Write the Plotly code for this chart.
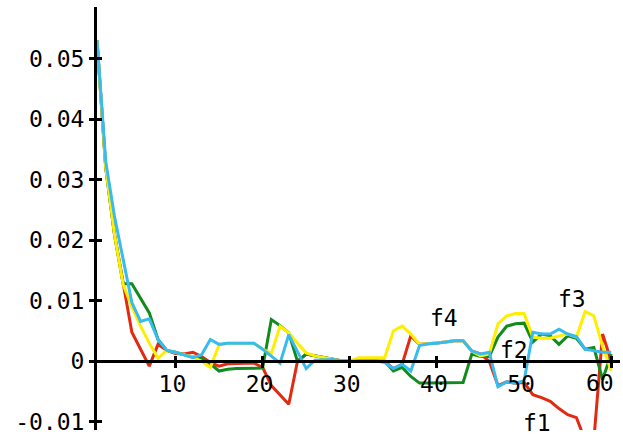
import plotly.graph_objects as go

# sample index
n = list(range(1, 61))

f1 = [0.053, 0.032, 0.021, 0.0127, 0.0048, 0.002, -0.0008, 0.0028, 0.0018, 0.0013,
      0.0012, 0.0015, 0.0008, -0.0002, -0.0008, -0.0004, -0.0003, -0.0003, -0.0003, -0.001,
      -0.004, -0.0055, -0.0071, 0.0, 0.0012, 0.0009, 0.0006, 0.0003, 0.0001, 0.0,
      0.0, 0.0, 0.0, 0.0, -0.0012, -0.0005, 0.0042, 0.0028, 0.0029, 0.003,
      0.0032, 0.0034, 0.0034, 0.0017, 0.0012, 0.0, -0.004, -0.0034, -0.0036, -0.0035,
      -0.0055, -0.006, -0.0066, -0.0078, -0.0088, -0.0093, -0.013, -0.013, 0.0045, 0.0]

f2 = [0.053, 0.032, 0.021, 0.0128, 0.0128, 0.0105, 0.008, 0.0036, 0.0018, 0.0015,
      0.0011, 0.0007, 0.0005, -0.0004, -0.0016, -0.0013, -0.0012, -0.0012, -0.0012, -0.0011,
      0.0069, 0.0059, 0.0047, 0.0, 0.0012, 0.0009, 0.0006, 0.0003, 0.0001, 0.0,
      0.0, 0.0, 0.0, 0.0, -0.0016, -0.001, -0.0025, -0.0036, -0.0036, -0.0036,
      -0.0036, -0.0036, -0.0035, 0.0012, 0.0008, 0.0008, 0.004, 0.0058, 0.0062, 0.0063,
      0.0032, 0.0045, 0.0042, 0.0028, 0.0042, 0.0038, 0.002, 0.0023, -0.003, 0.0012]

f3 = [0.053, 0.032, 0.021, 0.0127, 0.009, 0.0058, 0.003, 0.0005, 0.0018, 0.0015,
      0.0011, 0.0007, 0.0, -0.001, 0.0027, 0.003, 0.003, 0.003, 0.003, 0.002,
      0.0013, 0.0058, 0.0047, 0.003, 0.0014, 0.0009, 0.0006, 0.0003, 0.0001, 0.0,
      0.0006, 0.0006, 0.0006, 0.0006, 0.005, 0.0058, 0.0045, 0.0028, 0.0029, 0.003,
      0.0032, 0.0034, 0.0034, 0.0017, 0.0009, 0.0012, 0.0062, 0.0075, 0.0079, 0.0079,
      0.004, 0.0038, 0.0038, 0.0042, 0.0045, 0.004, 0.0082, 0.0075, 0.0025, -0.0016]

f4 = [0.053, 0.033, 0.024, 0.017, 0.0097, 0.0066, 0.007, 0.0036, 0.0018, 0.0015,
      0.0011, 0.0006, 0.0011, 0.0036, 0.0028, 0.003, 0.003, 0.003, 0.003, 0.002,
      0.0009, -0.0003, 0.0044, 0.0015, -0.0012, 0.0002, 0.0003, 0.0003, 0.0001, 0.0,
      0.0001, 0.0001, 0.0001, -0.0002, -0.0012, -0.0005, -0.0016, 0.0026, 0.0029, 0.003,
      0.0032, 0.0034, 0.0034, 0.0017, 0.0012, 0.0015, -0.0042, -0.0034, -0.0036, -0.0032,
      0.0048, 0.0045, 0.0045, 0.0053, 0.0045, 0.0041, 0.002, 0.0017, 0.0015, 0.0015]

names = ["f1", "f2", "f3", "f4"]
colors = ["#E22A10", "#128A1E", "#FFEE00", "#38BBEE"]
series = [f1, f2, f3, f4]

# curve labels (x, y in data units)
label_x = [51.46, 48.82, 55.53, 40.8]
label_y = [-0.0102, 0.0019, 0.0103, 0.0072]

x_ticks = [10, 20, 30, 40, 50, 60]
# the last label is drawn separately, pulled left so it stays inside the page
x_tick_text = ["10", "20", "30", "40", "50", ""]
last_x_label = "60"
y_ticks = [-0.01, 0, 0.01, 0.02, 0.03, 0.04, 0.05]
y_tick_text = ["-0.01", "0", "0.01", "0.02", "0.03", "0.04", "0.05"]

x_range = [1, 61]
y_range = [-0.01134, 0.0585]
zero_pos = (0 - y_range[0]) / (y_range[1] - y_range[0])

FONT = "DejaVu Sans Mono"
fig = go.Figure()
for name, col, ys in zip(names, colors, series):
    fig.add_trace(go.Scatter(x=n, y=ys, mode="lines", name=name,
                             line=dict(color=col, width=3), showlegend=False))

for name, lx, ly in zip(names, label_x, label_y):
    fig.add_annotation(x=lx, y=ly, xref="x", yref="y", text=name, showarrow=False,
                       font=dict(family=FONT, size=23, color="black"),
                       xanchor="center", yanchor="middle")

fig.add_annotation(x=x_ticks[-1], y=0, xref="x", yref="y", text=last_x_label,
                   showarrow=False, font=dict(family=FONT, size=23, color="black"),
                   xanchor="center", yanchor="top", xshift=-11, yshift=-7)

axis_common = dict(showgrid=False, zeroline=False, linecolor="black", linewidth=3,
                   tickcolor="black", tickwidth=3, ticklen=5, automargin=False,
                   tickfont=dict(family=FONT, size=23, color="black"))

fig.update_layout(
    width=623, height=439,
    margin=dict(l=97, r=3, t=7, b=9, autoexpand=False),
    paper_bgcolor="white", plot_bgcolor="white",
    xaxis=dict(range=x_range, tickvals=x_ticks, ticktext=x_tick_text,
               ticks="outside", showline=True,
               ticklabelstandoff=-4, ticklabelshift=-3,
               anchor="free", position=zero_pos, **axis_common),
    yaxis=dict(range=y_range, tickvals=y_ticks, ticktext=y_tick_text,
               ticks="outside", showline=True, **axis_common),
    # second set of axes draws the inner half of each crossing tick
    xaxis2=dict(range=x_range, tickvals=x_ticks, ticks="inside", showline=False,
                showticklabels=False, overlaying="x", anchor="free",
                position=zero_pos, **axis_common),
    yaxis2=dict(range=y_range, tickvals=y_ticks, ticks="inside", showline=False,
                showticklabels=False, overlaying="y", anchor="x", side="left",
                **axis_common),
)
# invisible trace to activate the overlay axes
fig.add_trace(go.Scatter(x=[None], y=[None], xaxis="x2", yaxis="y2",
                         showlegend=False, hoverinfo="skip"))

fig.write_html("out.html")
